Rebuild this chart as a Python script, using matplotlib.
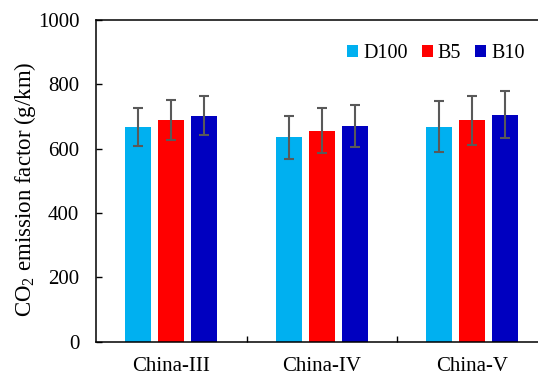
import numpy as np
import matplotlib
matplotlib.use("Agg")
import matplotlib.pyplot as plt

plt.rcParams["font.family"] = ["Liberation Serif", "DejaVu Serif"]
plt.rcParams["mathtext.default"] = "regular"

# %% data
categories = ["China-III", "China-IV", "China-V"]
fuels = ["D100", "B5", "B10"]
colors = ["#00B0F0", "#FF0000", "#0000C0"]
d100 = [668, 635, 668]
b5 = [688, 656, 688]
b10 = [702, 671, 706]
d100_err = [60, 67, 79]
b5_err = [62, 69, 77]
b10_err = [61, 66, 72]

# %% plot
fig = plt.figure(figsize=(5.38, 3.75), dpi=100)
ax = fig.add_axes([96 / 538, 33.3 / 375, 451.5 / 538, 321.7 / 375])

x = np.arange(1, len(categories) + 1)
width = 0.173
offset = 0.219
series = [d100, b5, b10]
errs = [d100_err, b5_err, b10_err]
for i, (vals, err) in enumerate(zip(series, errs)):
    ax.bar(x + (i - 1) * offset, vals, width, color=colors[i], label=fuels[i],
           yerr=err, error_kw=dict(ecolor="#595959", elinewidth=1.5,
                                   capsize=3.6, capthick=1.5))

ax.set_xlim(0.5, 3.5)
ax.set_ylim(0, 1000)
ax.set_yticks(np.arange(0, 1001, 200))
ax.set_xticks(x)
ax.set_xticklabels(categories, fontsize=15)
ax.set_xticks([1.5, 2.5], minor=True)
ax.tick_params(axis="x", which="major", length=0, pad=11)
ax.tick_params(axis="x", which="minor", direction="in", length=4, width=1)
ax.tick_params(axis="y", direction="in", length=4, width=1, labelsize=15, pad=12)
for s in ax.spines.values():
    s.set_linewidth(1.1)
ax.set_ylabel("CO$_2$ emission factor (g/km)", fontsize=16.5)
ax.yaxis.set_label_coords(-0.128, 0.475)

ax.legend(loc="center right", bbox_to_anchor=(525 / 538, 1 - 54 / 375),
          bbox_transform=fig.transFigure, ncol=3, frameon=False, fontsize=14.5,
          handlelength=0.55, handleheight=0.55, handletextpad=0.25,
          columnspacing=0.7, borderaxespad=0, borderpad=0)

fig.savefig("out.png", dpi=100)
